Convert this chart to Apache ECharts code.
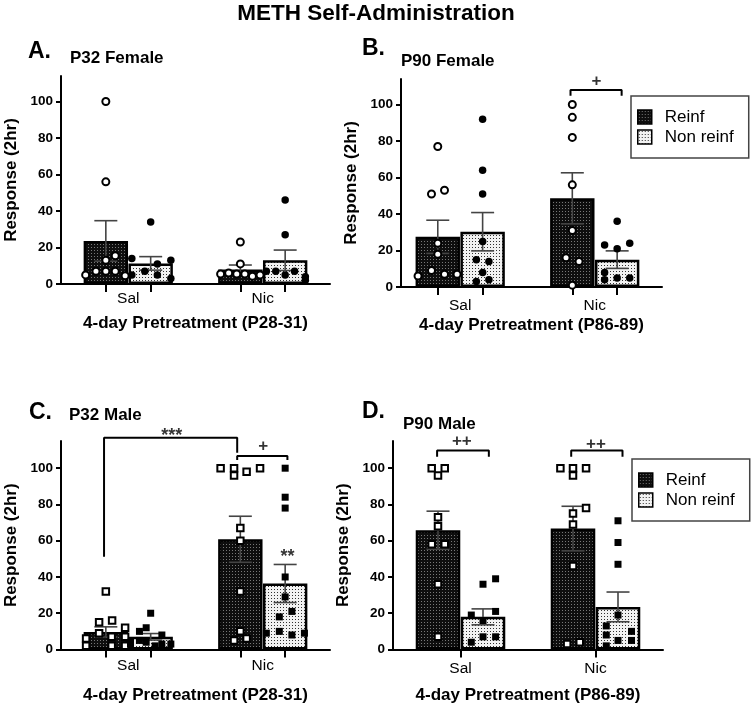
<!DOCTYPE html>
<html><head><meta charset="utf-8">
<script src="https://cdn.jsdelivr.net/npm/echarts@6/dist/echarts.min.js"></script>
<style>html,body{margin:0;padding:0;background:#fff}#c{width:752px;height:709px}</style>
</head><body><div id="c"></div>
<script>
// ---------------- data ----------------
const groups = ['Sal', 'Nic'];
const barNames = ['Reinf', 'Non reinf'];
const yTickValues = [0, 20, 40, 60, 80, 100];
const yName = 'Response (2hr)';
const mainTitle = 'METH Self-Administration';

// Panel A (P32 Female)
const A_reinfMean = [23.6, 8.0];
const A_reinfSem = [11.1, 2.4];
const A_nonMean = [11.3, 13.0];
const A_nonSem = [3.7, 5.6];
const A_salReinf = [100, 56, 15.5, 13, 7, 7, 7, 5, 4.5];
const A_nicReinf = [23, 11, 5.5, 6, 5.5, 5.5, 4.3, 5];
const A_salNon = [34, 14, 13, 11, 7, 5, 5, 3];
const A_nicNon = [46, 27, 7, 7, 5, 7, 4, 2];
// Panel B (P90 Female)
const B_reinfMean = [27.5, 48.6];
const B_reinfSem = [9.1, 14.0];
const B_nonMean = [30.3, 15.0];
const B_nonSem = [10.5, 4.8];
const B_salReinf = [77, 51, 53, 24, 18, 9, 7, 7, 6];
const B_nicReinf = [100, 93, 82, 56, 31, 16, 14, 1];
const B_salNon = [92, 64, 51, 25, 15, 14, 8, 3, 4];
const B_nicNon = [36, 23, 21, 24, 8, 4, 5, 5];
// Panel C (P32 Male)
const C_reinfMean = [9.7, 60.8];
const C_reinfSem = [2.8, 12.7];
const C_nonMean = [7.0, 36.4];
const C_nonSem = [1.8, 10.5];
const C_salReinf = [32, 16, 15, 12, 9, 6, 7, 7, 2, 2, 2];
const C_nicReinf = [100, 100, 96, 98, 100, 67, 60, 32, 10, 5, 6];
const C_salNon = [20, 12, 10, 8, 5, 4, 3, 3, 4, 2, 3];
const C_nicNon = [100, 84, 78, 40, 29, 18, 21, 9, 10, 8, 9];
// Panel D (P90 Male)
const D_reinfMean = [65.8, 66.7];
const D_reinfSem = [10.5, 12.3];
const D_nonMean = [18.0, 23.5];
const D_nonSem = [4.4, 8.2];
const D_salReinf = [100, 100, 96, 73, 68, 58, 58, 36, 7];
const D_nicReinf = [100, 100, 100, 96, 78, 75, 69, 46, 3, 4];
const D_salNon = [36, 39, 21, 19, 16, 7, 7, 4];
const D_nicNon = [71, 59, 47, 19, 13, 8, 10, 5, 5, 2];

// ---------------- horizontal spread of points (bar-width units) ----------------
const A_salReinfJit = [0, 0, 0.21, 0, -0.22, 0, 0.21, -0.45, 0.43];
const A_nicReinfJit = [0, 0, -0.44, -0.26, -0.08, 0.1, 0.27, 0.44];
const A_salNonJit = [0, -0.42, 0.45, 0.15, -0.13, 0.15, -0.42, 0.45];
const A_nicNonJit = [0, 0, -0.21, 0.21, 0, -0.42, 0.45, 0.45];
const B_salReinfJit = [0, -0.14, 0.15, 0, 0, -0.14, 0.15, 0.43, -0.44];
const B_nicReinfJit = [0, 0, 0, 0, 0, -0.14, 0.15, 0];
const B_salNonJit = [0, 0, 0, 0, -0.14, 0.14, 0, -0.14, 0.14];
const B_nicNonJit = [0, -0.28, 0, 0.28, -0.28, -0.28, 0, 0.28];
const C_salReinfJit = [0, 0.14, -0.15, 0.43, -0.15, -0.44, 0.13, 0.43, -0.44, 0.13, 0.43];
const C_nicReinfJit = [-0.44, -0.14, -0.14, 0.14, 0.44, 0, 0, 0, 0, -0.14, 0.14];
const C_salNonJit = [0, -0.1, -0.25, 0.25, -0.25, -0.1, 0.25, 0.45, -0.45, 0.1, -0.45];
const C_nicNonJit = [0, 0, 0, 0, 0, -0.13, 0.15, -0.42, -0.13, 0.15, 0.43];
const D_salReinfJit = [-0.14, 0.15, 0, 0, 0, -0.14, 0.15, 0, 0];
const D_nicReinfJit = [-0.28, 0, 0.29, 0, 0.29, 0, 0, 0, -0.13, 0.15];
const D_salNonJit = [0, 0.28, 0.28, -0.26, 0, 0, 0.28, -0.26];
const D_nicNonJit = [0, 0, 0, 0, -0.26, -0.26, 0.3, 0, 0.3, -0.26];

// ---------------- layout / style ----------------
const FONT = '"Liberation Sans", Arial, Helvetica, sans-serif';
function makePattern(bg, fg) {
  const c = document.createElement('canvas');
  c.width = 3; c.height = 3;
  const ctx = c.getContext('2d');
  ctx.fillStyle = bg; ctx.fillRect(0, 0, 3, 3);
  ctx.fillStyle = fg; ctx.fillRect(1, 1, 1, 1);
  return { image: c, repeat: 'repeat' };
}
const darkFill = makePattern('#0e0e0e', '#787878');
const lightFill = makePattern('#f2f2f2', '#303030');

const panels = [
  { letter: 'A.', title: 'P32 Female', xName: '4-day Pretreatment (P28-31)',
    grid: { left: 61, top: 76, width: 269, height: 208 }, xMin: 0, xMax: 6, yMax: 114,
    sym: 'circle', tickAt: 'bars', labMargin: 7, xNameGap: 31,
    letterPos: [28, 39], titlePos: [70, 48],
    reinfMean: A_reinfMean, reinfSem: A_reinfSem, nonMean: A_nonMean, nonSem: A_nonSem,
    reinfPts: [A_salReinf, A_nicReinf], nonPts: [A_salNon, A_nicNon],
    reinfJit: [A_salReinfJit, A_nicReinfJit], nonJit: [A_salNonJit, A_nicNonJit],
    brackets: [], notes: [], legend: null },
  { letter: 'B.', title: 'P90 Female', xName: '4-day Pretreatment (P86-89)',
    grid: { left: 401, top: 79, width: 261, height: 208 }, xMin: 0.18, xMax: 6, yMax: 114,
    sym: 'circle', tickAt: 'bars', labMargin: 11, xNameGap: 30,
    letterPos: [362, 36], titlePos: [401, 51],
    reinfMean: B_reinfMean, reinfSem: B_reinfSem, nonMean: B_nonMean, nonSem: B_nonSem,
    reinfPts: [B_salReinf, B_nicReinf], nonPts: [B_salNon, B_nicNon],
    reinfJit: [B_salReinfJit, B_nicReinfJit], nonJit: [B_salNonJit, B_nicNonJit],
    brackets: [[[3.96, 104.8], [3.96, 108], [5.1, 108], [5.1, 104.8]]],
    notes: [[4.54, 112.5, '+', 17]], legend: [631, 96] },
  { letter: 'C.', title: 'P32 Male', xName: '4-day Pretreatment (P28-31)',
    grid: { left: 61, top: 441, width: 269, height: 208.5 }, xMin: 0, xMax: 6, yMax: 115,
    sym: 'rect', tickAt: 'bars', labMargin: 8, xNameGap: 37,
    letterPos: [29, 400], titlePos: [69, 405],
    reinfMean: C_reinfMean, reinfSem: C_reinfSem, nonMean: C_nonMean, nonSem: C_nonSem,
    reinfPts: [C_salReinf, C_nicReinf], nonPts: [C_salNon, C_nicNon],
    reinfJit: [C_salReinfJit, C_nicReinfJit], nonJit: [C_salNonJit, C_nicNonJit],
    brackets: [[[0.96, 51.2], [0.96, 116.8], [3.93, 116.8], [3.93, 108.5]],
               [[3.93, 104.5], [3.93, 106.7], [5.05, 106.7], [5.05, 104.5]]],
    notes: [[2.47, 118.0, '***', 18], [4.51, 112.2, '+', 17], [5.05, 50.8, '**', 18]], legend: null },
  { letter: 'D.', title: 'P90 Male', xName: '4-day Pretreatment (P86-89)',
    grid: { left: 393, top: 441, width: 270, height: 208.5 }, xMin: 0, xMax: 6, yMax: 115,
    sym: 'rect', tickAt: 'groups', labMargin: 11, xNameGap: 37,
    letterPos: [362, 399], titlePos: [403, 414],
    reinfMean: D_reinfMean, reinfSem: D_reinfSem, nonMean: D_nonMean, nonSem: D_nonSem,
    reinfPts: [D_salReinf, D_nicReinf], nonPts: [D_salNon, D_nicNon],
    reinfJit: [D_salReinfJit, D_nicReinfJit], nonJit: [D_salNonJit, D_nicNonJit],
    brackets: [[[0.98, 106.3], [0.98, 109.7], [2.13, 109.7], [2.13, 106.3]],
               [[3.96, 106.3], [3.96, 109.7], [5.1, 109.7], [5.1, 106.3]]],
    notes: [[1.53, 114.6, '++', 17], [4.51, 113.3, '++', 17]], legend: [632, 459] }
];

// position of a bar: group g, sub-bar s (0 = Reinf, 1 = Non reinf)
const barPos = (g, s) => 1 + 3 * g + s;
const groupPos = g => 1.5 + 3 * g;

function renderErr(params, api) {
  const x = api.value(0), m = api.value(1), s = api.value(2);
  const t = api.coord([x, m + s]);
  const b = api.coord([x, Math.max(0, m - s)]);
  const hw = 11.5;
  const st = { stroke: '#444', lineWidth: 1.6 };
  return { type: 'group', children: [
    { type: 'line', shape: { x1: t[0], y1: t[1], x2: b[0], y2: b[1] }, style: st },
    { type: 'line', shape: { x1: t[0] - hw, y1: t[1], x2: t[0] + hw, y2: t[1] }, style: st },
    { type: 'line', shape: { x1: b[0] - hw, y1: b[1], x2: b[0] + hw, y2: b[1] }, style: st }
  ] };
}

const titles = [{ text: mainTitle, left: 'center', top: 1, padding: 0,
  textStyle: { fontSize: 22.5, fontWeight: 'bold', fontFamily: FONT, color: '#000', lineHeight: 26 } }];
const grids = [], xAxes = [], yAxes = [], series = [], legends = [];

panels.forEach((P, p) => {
  titles.push({ text: P.letter, left: P.letterPos[0], top: P.letterPos[1], padding: 0,
    textStyle: { fontSize: 23, fontWeight: 'bold', fontFamily: FONT, color: '#000', lineHeight: 26 } });
  titles.push({ text: P.title, left: P.titlePos[0], top: P.titlePos[1], padding: 0,
    textStyle: { fontSize: 17, fontWeight: 'bold', fontFamily: FONT, color: '#000', lineHeight: 20 } });
  grids.push(Object.assign({ containLabel: false }, P.grid));
  const tickVals = P.tickAt === 'bars'
    ? groups.flatMap((g, i) => [barPos(i, 0), barPos(i, 1)])
    : groups.map((g, i) => groupPos(i));
  xAxes.push({ type: 'value', gridIndex: p, min: P.xMin, max: P.xMax,
    name: P.xName, nameLocation: 'middle', nameGap: P.xNameGap,
    nameTextStyle: { fontSize: 17, fontWeight: 'bold', fontFamily: FONT, color: '#000' },
    axisLine: { show: true, onZero: false, lineStyle: { color: '#000', width: 2 } },
    axisTick: { show: true, length: 8, customValues: tickVals, lineStyle: { color: '#000', width: 2 } },
    axisLabel: { show: true, margin: P.labMargin, customValues: groups.map((g, i) => groupPos(i)),
      formatter: v => groups[Math.round((v - 1.5) / 3)] || '',
      fontSize: 15.5, fontFamily: FONT, color: '#000' },
    splitLine: { show: false } });
  yAxes.push({ type: 'value', gridIndex: p, min: 0, max: P.yMax, interval: 20,
    name: yName, nameLocation: 'middle', nameGap: 41,
    nameTextStyle: { fontSize: 17, fontWeight: 'bold', fontFamily: FONT, color: '#000' },
    axisLine: { show: true, lineStyle: { color: '#000', width: 2 } },
    axisTick: { show: true, length: 5, customValues: yTickValues, lineStyle: { color: '#000', width: 2 } },
    axisLabel: { show: true, margin: 8, customValues: yTickValues,
      fontSize: 13.5, fontWeight: 'bold', fontFamily: FONT, color: '#000' },
    splitLine: { show: false } });

  const common = { xAxisIndex: p, yAxisIndex: p, animation: false };
  series.push(Object.assign({ type: 'bar', name: barNames[0], barWidth: '99%', barGap: '-100%', z: 2,
    data: groups.map((g, i) => [barPos(i, 0), P.reinfMean[i]]),
    itemStyle: { color: darkFill, borderColor: '#000', borderWidth: 2.5 } }, common));
  series.push(Object.assign({ type: 'bar', name: barNames[1], barWidth: '99%', barGap: '-100%', z: 2,
    data: groups.map((g, i) => [barPos(i, 1), P.nonMean[i]]),
    itemStyle: { color: lightFill, borderColor: '#000', borderWidth: 2.5 } }, common));
  series.push(Object.assign({ type: 'custom', name: 'err' + p, z: 3, silent: true,
    renderItem: renderErr, encode: { x: 0, y: 1 },
    data: groups.flatMap((g, i) => [[barPos(i, 0), P.reinfMean[i], P.reinfSem[i]],
                                    [barPos(i, 1), P.nonMean[i], P.nonSem[i]]]) }, common));
  const sq = P.sym === 'rect';
  series.push(Object.assign({ type: 'scatter', name: 'ptsR' + p, z: 4, silent: true,
    symbol: P.sym, symbolSize: sq ? 6.5 : 7,
    itemStyle: { color: '#fff', borderColor: '#000', borderWidth: 2, opacity: 1 },
    data: groups.flatMap((g, i) => P.reinfPts[i].map((v, k) => [barPos(i, 0) + P.reinfJit[i][k], v])) }, common));
  series.push(Object.assign({ type: 'scatter', name: 'ptsN' + p, z: 4, silent: true,
    symbol: P.sym, symbolSize: sq ? 7 : 7.5,
    itemStyle: { color: '#000', opacity: 1 },
    data: groups.flatMap((g, i) => P.nonPts[i].map((v, k) => [barPos(i, 1) + P.nonJit[i][k], v])) }, common));
  P.brackets.forEach((br, j) => {
    series.push(Object.assign({ type: 'line', name: 'br' + p + '_' + j, z: 5, silent: true, clip: false,
      symbol: 'none', lineStyle: { color: '#000', width: 2 }, data: br }, common));
  });
  P.notes.forEach((n, j) => {
    series.push(Object.assign({ type: 'scatter', name: 'nt' + p + '_' + j, z: 6, silent: true, clip: false,
      symbol: 'rect', symbolSize: 1, itemStyle: { color: 'rgba(0,0,0,0)' },
      label: { show: true, position: 'inside', formatter: n[2], fontSize: n[3], fontWeight: 'bold',
        fontFamily: FONT, color: '#000' },
      data: [[n[0], n[1]]] }, common));
  });
  if (P.legend) {
    legends.push({ data: barNames, orient: 'vertical', left: P.legend[0], top: P.legend[1],
      icon: 'rect', itemWidth: 14, itemHeight: 14, itemGap: 0, selectedMode: false,
      padding: [11, 15, 11, 6], borderColor: '#444', borderWidth: 1.5,
      itemStyle: { borderColor: '#000', borderWidth: 1.5 },
      textStyle: { fontSize: 17, fontFamily: FONT, color: '#000', lineHeight: 20, padding: [0, 0, 0, 8] } });
  }
});

const chart = echarts.init(document.getElementById('c'), null, { renderer: 'canvas' });
chart.setOption({ animation: false, backgroundColor: '#fff', title: titles, grid: grids,
  xAxis: xAxes, yAxis: yAxes, legend: legends, series: series });
</script></body></html>
